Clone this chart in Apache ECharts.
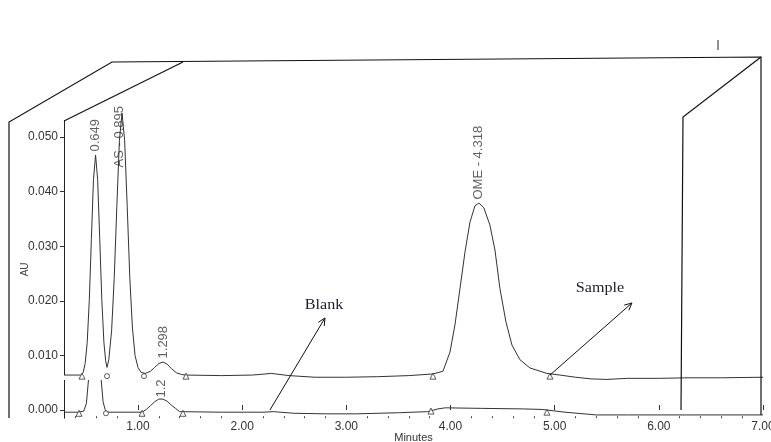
<!DOCTYPE html>
<html><head><meta charset="utf-8">
<script src="https://cdn.jsdelivr.net/npm/echarts@6/dist/echarts.min.js"></script>
<style>html,body{margin:0;padding:0;background:#fff}#c{width:771px;height:442px}</style>
</head><body><div id="c"></div>
<script>
// ---- data (minutes, AU) ----
const sampleTimes = [0.29,0.45,0.473,0.493,0.513,0.533,0.553,0.573,0.593,0.613,0.633,0.653,0.673,0.69,0.703,0.72,0.747,0.772,0.797,0.822,0.847,0.872,0.897,0.922,0.947,0.972,1.0,1.03,1.07,1.12,1.16,1.2,1.24,1.28,1.32,1.37,1.42,1.46,1.8,2.1,2.28,2.45,2.7,3.0,3.3,3.6,3.83,3.928,3.995,4.043,4.091,4.139,4.187,4.235,4.273,4.321,4.378,4.427,4.475,4.533,4.59,4.667,4.763,4.926,5.05,5.2,5.35,5.5,5.7,6.0,6.3,6.6,7.0];
const sampleAU = [0.0064,0.0064,0.0068,0.0085,0.0124,0.0202,0.0314,0.0422,0.0467,0.0422,0.0314,0.0202,0.0124,0.009,0.0078,0.0092,0.0145,0.0241,0.0372,0.0494,0.0544,0.0494,0.0372,0.0241,0.015,0.01,0.0078,0.0069,0.0067,0.0071,0.0078,0.0085,0.0088,0.0084,0.0076,0.0068,0.0065,0.0064,0.0063,0.0064,0.0067,0.0063,0.006,0.006,0.0061,0.0063,0.0066,0.0071,0.0106,0.0156,0.0222,0.0289,0.0344,0.0374,0.0379,0.037,0.0339,0.0293,0.0222,0.0161,0.0119,0.0092,0.0077,0.0067,0.0064,0.006,0.0057,0.0056,0.0058,0.0058,0.0059,0.0059,0.006];
const blankTimes = [0.29,0.43,0.48,0.505,0.525,0.545,0.57,0.59,0.61,0.63,0.645,0.665,0.685,0.7,1.04,1.08,1.12,1.16,1.2,1.24,1.28,1.32,1.36,1.4,1.8,2.2,2.3,2.5,2.8,3.1,3.5,3.78,3.88,3.95,4.3,4.7,4.88,5.1,5.4,5.7,6.3,7.0];
const blankAU = [-0.0004,-0.0004,-0.0002,0.0012,0.0055,0.014,0.025,0.028,0.024,0.014,0.006,0.0015,0.0001,-0.0004,-0.0004,0.0001,0.0008,0.0015,0.002,0.002,0.0016,0.0009,0.0003,-0.0003,-0.0004,-0.0004,-0.0003,-0.0006,-0.0007,-0.0007,-0.0005,-0.0003,0.0002,0.0004,0.0003,0.0002,0.0001,-0.0004,-0.0009,-0.0009,-0.0009,-0.0009];

const peakNames = ['0.649','AS - 0.895','1.298','OME - 4.318'];
const peakTimes = [0.593,0.847,1.24,4.273];
const peakAU = [0.0467,0.0544,0.0088,0.0379];
const blankPeakNames = ['1.2'];
const blankPeakTimes = [1.222];
const blankPeakAU = [0.002];

const sampleMarkTimes = [0.463,0.703,1.058,1.461,3.832,4.955];
const sampleMarkAU = [0.0062,0.0062,0.0062,0.0062,0.0062,0.0062];
const sampleMarkKinds = ['tri','circ','circ','tri','tri','tri'];
const blankMarkTimes = [0.434,0.693,1.039,1.432,3.813,4.926];
const blankMarkAU = [-0.0006,-0.0006,-0.0006,-0.0006,-0.0002,-0.0004];
const blankMarkKinds = ['tri','circ','tri','tri','tri','tri'];

const xTickValues = [1,2,3,4,5,6,7];
const xMinorValues = [0.4,0.6,0.8,1.2,1.4,1.6,1.8,2.2,2.4,2.6,2.8,3.2,3.4,3.6,3.8,4.2,4.4,4.6,4.8,5.2,5.4,5.6,5.8,6.2,6.4,6.6,6.8];
const yTickValues = [0,0.01,0.02,0.03,0.04,0.05];

const annotations = ['Blank','Sample'];
const annotationAt = [[2.786,0.0192],[5.435,0.0222]];
const arrowFrom = [[2.267,0.0],[4.955,0.0064]];
const arrowTo = [[2.795,0.01685],[5.742,0.0196]];

// ---- chart ----
const FONT = "'Liberation Sans', Arial, sans-serif";
const pair = (ts, vs) => ts.map((t, i) => [t, vs[i]]);
const markItems = (ts, vs, kinds) => ts.map((t, i) => ({
  value: [t, vs[i]],
  symbol: kinds[i] === 'tri' ? 'triangle' : 'circle',
  symbolSize: kinds[i] === 'tri' ? 6 : 5
}));
const labelItems = (ts, vs, names) => ts.map((t, i) => ({ value: [t, vs[i]], name: names[i] }));

const chart = echarts.init(document.getElementById('c'));
const labelStyle = {
  show: true, formatter: p => p.name, rotate: 90, position: [0.5, -3],
  align: 'left', verticalAlign: 'middle', fontFamily: FONT, fontSize: 13, color: '#3a3a3a'
};
const blankLabelStyle = Object.assign({}, labelStyle, { position: [0.5, -1] });
const peakData = labelItems(peakTimes, peakAU, peakNames);
peakData[1].label = { position: [-2, 55] };

chart.setOption({
  animation: false,
  backgroundColor: '#fff',
  grid: { left: 64, right: 8, top: 120.6, bottom: 23.8, containLabel: false, outerBoundsMode: 'none' },
  xAxis: [
    { type: 'value', min: 0.29, max: 7, position: 'bottom',
      name: 'Minutes', nameLocation: 'middle', nameGap: 14, nameMoveOverlap: false,
      nameTextStyle: { fontFamily: FONT, fontSize: 11, color: '#333' },
      axisLine: { show: false },
      axisTick: { show: true, inside: true, length: 5, customValues: xTickValues, lineStyle: { color: '#333' } },
      axisLabel: { customValues: xTickValues, formatter: v => v.toFixed(2), margin: 2, fontFamily: FONT, fontSize: 12, color: '#333' },
      splitLine: { show: false } },
    { type: 'value', min: 0.29, max: 7, position: 'bottom',
      axisLine: { show: false },
      axisTick: { show: true, inside: true, length: 2, customValues: xMinorValues, lineStyle: { color: '#444' } },
      axisLabel: { show: false }, splitLine: { show: false } }
  ],
  yAxis: {
    type: 'value', min: -0.0015, max: 0.053,
    name: 'AU', nameLocation: 'middle', nameGap: 34, nameRotate: 90, nameMoveOverlap: false,
    nameTextStyle: { fontFamily: FONT, fontSize: 10, color: '#444' },
    axisLine: { show: true, lineStyle: { color: '#222' } },
    axisTick: { show: true, length: 4, customValues: yTickValues, lineStyle: { color: '#333' } },
    axisLabel: { customValues: yTickValues, formatter: v => v.toFixed(3), margin: 6, fontFamily: FONT, fontSize: 12, color: '#333' },
    splitLine: { show: false }
  },
  series: [
    { name: 'Blank', type: 'line', data: pair(blankTimes, blankAU), symbol: 'none', clip: false,
      lineStyle: { color: '#333', width: 1 }, z: 2 },
    { name: 'BlankLabels', type: 'scatter', data: labelItems(blankPeakTimes, blankPeakAU, blankPeakNames),
      symbol: 'circle', symbolSize: 1, itemStyle: { color: 'transparent' }, label: blankLabelStyle, z: 1, silent: true },
    { name: 'BlankMarks', type: 'scatter', data: markItems(blankMarkTimes, blankMarkAU, blankMarkKinds),
      itemStyle: { color: '#fff', borderColor: '#333', borderWidth: 1 }, z: 3 },
    { name: 'Sample', type: 'line', data: pair(sampleTimes, sampleAU), symbol: 'none', clip: false,
      lineStyle: { color: '#333', width: 1 },
      areaStyle: { color: '#fff', opacity: 1, origin: 0.0055 }, z: 5 },
    { name: 'SampleMarks', type: 'scatter', data: markItems(sampleMarkTimes, sampleMarkAU, sampleMarkKinds),
      itemStyle: { color: '#fff', borderColor: '#333', borderWidth: 1 }, z: 6 },
    { name: 'PeakLabels', type: 'scatter', data: peakData, clip: false,
      symbol: 'circle', symbolSize: 1, itemStyle: { color: 'transparent' }, label: labelStyle, z: 7, silent: true }
  ]
});

// ---- decoration: 3D box frame, annotation arrows and texts ----
const px = p => chart.convertToPixel({ gridIndex: 0 }, p);
const graphics = [
  { type: 'polyline', shape: { points: [[9,418],[9,122],[112,62],[761,57],[761,415]] }, style: { fill: null, stroke: '#111', lineWidth: 1.2 }, z: 100 },
  { type: 'line', shape: { x1: 64, y1: 121, x2: 183, y2: 62 }, style: { stroke: '#111', lineWidth: 1.2 }, z: 100 },
  { type: 'polyline', shape: { points: [[761,57],[683,117],[681,410]] }, style: { fill: null, stroke: '#111', lineWidth: 1.2 }, z: 100 },
  { type: 'line', shape: { x1: 718, y1: 40, x2: 718, y2: 50 }, style: { stroke: '#222', lineWidth: 1 }, z: 100 }
];
arrowFrom.forEach((f, i) => {
  const a = px(f), b = px(arrowTo[i]);
  const ang = Math.atan2(b[1] - a[1], b[0] - a[0]);
  const L = 8, s = 0.45;
  graphics.push({ type: 'line', shape: { x1: a[0], y1: a[1], x2: b[0], y2: b[1] }, style: { stroke: '#111', lineWidth: 1 }, z: 100 });
  graphics.push({ type: 'polyline', shape: { points: [
    [b[0] - L * Math.cos(ang - s), b[1] - L * Math.sin(ang - s)], b,
    [b[0] - L * Math.cos(ang + s), b[1] - L * Math.sin(ang + s)] ] },
    style: { fill: null, stroke: '#111', lineWidth: 1 }, z: 100 });
});
annotations.forEach((t, i) => {
  const p = px(annotationAt[i]);
  graphics.push({ type: 'text', x: p[0], y: p[1], scaleX: 1.15,
    style: { text: t, fontFamily: "'Liberation Serif', 'Times New Roman', serif", fontSize: 14, fill: '#1c1c2a', align: 'center', verticalAlign: 'middle' }, z: 100 });
});
chart.setOption({ graphic: graphics });
</script>
</body></html>
